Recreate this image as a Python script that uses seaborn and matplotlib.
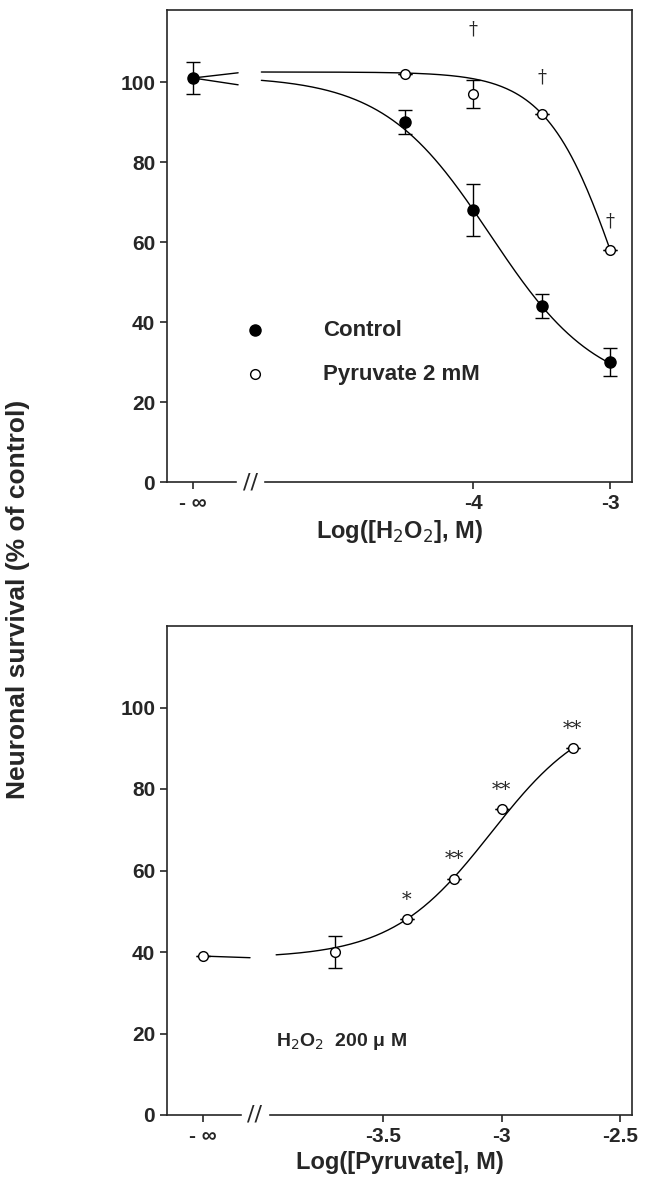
import numpy as np
import matplotlib
matplotlib.use("Agg")
import matplotlib.pyplot as plt
import seaborn as sns

sns.set_style("ticks")
# Top panel data
top_x = [-6.05, -4.5, -4.0, -3.5, -3.0]
ctrl_y = [101, 90, 68, 44, 30]
ctrl_err = [4, 3, 6.5, 3, 3.5]
pyr_x = [-4.5, -4.0, -3.5, -3.0]
pyr_y = [102, 97, 92, 58]
pyr_err = [0, 3.5, 0, 0]
top_ticks = [-6.05, -4, -3]
top_ticklabels = ["- \u221e", "-4", "-3"]
# Bottom panel data
bot_x = [-4.26, -3.7, -3.4, -3.2, -3.0, -2.7]
bot_y = [39, 40, 48, 58, 75, 90]
bot_err = [0, 4, 0, 0, 0, 0]
bot_stars = ["", "", "*", "**", "**", "**"]
bot_ticks = [-4.26, -3.5, -3, -2.5]
bot_ticklabels = ["- \u221e", "-3.5", "-3", "-2.5"]

W, H = 669, 1199
fig = plt.figure(figsize=(W/100, H/100), dpi=100)
ax1 = fig.add_axes([167/W, 1-482/H, (632-167)/W, (482-10)/H])
ax2 = fig.add_axes([167/W, 1-1115/H, (632-167)/W, (1115-626)/H])
bold = dict(fontweight="bold", family="Liberation Sans")

def hill(x, lo, hi, c, n):
    return lo + (hi - lo) / (1 + 10 ** (n * (x - c)))

# top
xs = np.linspace(-5.55, -3.0, 200)
ax1.plot(xs, hill(xs, 22, 101.5, -3.876, 1.11), color="black", lw=1)
ax1.plot(xs, hill(xs, 0, 102.5, -2.93, 1.66), color="black", lw=1)
ax1.plot([-6.05, -5.72], [101, 102.3], color="black", lw=1)
ax1.plot([-6.05, -5.72], [101, 99.3], color="black", lw=1)
ax1.errorbar(top_x, ctrl_y, yerr=ctrl_err, fmt="o", color="black", ms=8, capsize=5, lw=1)
ax1.errorbar(pyr_x, pyr_y, yerr=pyr_err, fmt="o", mfc="white", mec="black", color="black", ms=7, capsize=5, lw=1)
for x, y in [(-4.0, 112), (-3.5, 100), (-3.0, 64)]:
    ax1.text(x, y, "\u2020", ha="center", fontsize=13, family="DejaVu Serif")
ax1.set_xlim(-6.24, -2.84)
ax1.set_ylim(0, 118)
ax1.set_yticks([0, 20, 40, 60, 80, 100])
ax1.set_xticks(top_ticks)
ax1.set_xticklabels(top_ticklabels, fontsize=15, **bold)
ax1.set_xlabel("Log([H$_2$O$_2$], M)", fontsize=17, **bold)
ax1.plot([-5.6], [38], "o", color="black", ms=8)
ax1.text(-5.1, 38, "Control", va="center", fontsize=16, **bold)
ax1.plot([-5.6], [27], "o", mfc="white", mec="black", ms=7)
ax1.text(-5.1, 27, "Pyruvate 2 mM", va="center", fontsize=16, **bold)
ax1.text(-5.63, 0, "//", ha="center", va="center", fontsize=16, backgroundcolor="white")

# bottom
xs2 = np.linspace(-3.95, -2.7, 200)
ax2.plot(xs2, 38.5 + 61.5 / (1 + 10 ** (-2.07 * (xs2 + 3.044))), color="black", lw=1)
ax2.plot([-4.26, -4.06], [39, 38.6], color="black", lw=1)
ax2.errorbar(bot_x, bot_y, yerr=bot_err, fmt="o", mfc="white", mec="black", color="black", ms=7, capsize=5, lw=1)
for x, y, s in zip(bot_x, bot_y, bot_stars):
    if s:
        ax2.text(x, y + 3.5, s, ha="center", fontsize=14, family="DejaVu Serif")
ax2.set_xlim(-4.41, -2.45)
ax2.set_ylim(0, 120)
ax2.set_yticks([0, 20, 40, 60, 80, 100])
ax2.set_xticks(bot_ticks)
ax2.set_xticklabels(bot_ticklabels, fontsize=15, **bold)
ax2.set_xlabel("Log([Pyruvate], M)", fontsize=17, **bold)
ax2.text(-3.95, 17, "H$_2$O$_2$  200 \u03bc M", fontsize=14, **bold)
ax2.text(-4.04, 0, "//", ha="center", va="center", fontsize=16, backgroundcolor="white")

for ax in (ax1, ax2):
    for s in ax.spines.values():
        s.set_linewidth(1.2)
    ax.tick_params(direction="out", width=1.2, length=5, labelsize=15)
    for lab in ax.get_yticklabels():
        lab.set_fontweight("bold"); lab.set_family("Liberation Sans")
    sns.despine(ax=ax, top=False, right=False)

fig.text(18/W, 0.5, "Neuronal survival (% of control)", rotation=90, va="center", ha="center", fontsize=19, **bold)
fig.savefig("out.png", dpi=100)
